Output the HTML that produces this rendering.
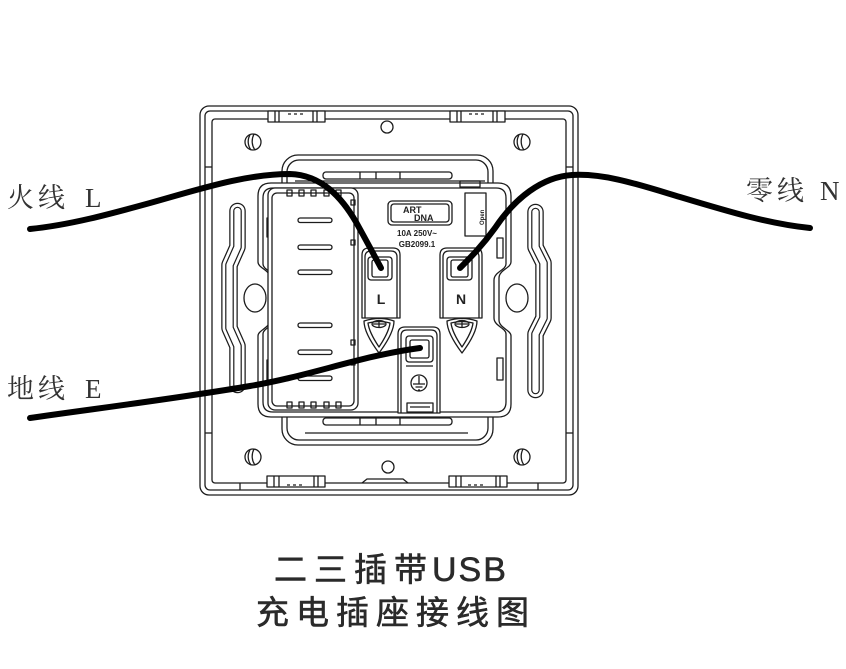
<!DOCTYPE html>
<html><head><meta charset="utf-8">
<style>
html,body{margin:0;padding:0;background:#fff;}
body{width:846px;height:669px;overflow:hidden;position:relative;}
svg{position:absolute;left:0;top:0;}
</style></head>
<body>
<svg width="846" height="669" viewBox="0 0 846 669" xmlns="http://www.w3.org/2000/svg">
<g fill="none" stroke="#1c1c1c" stroke-width="1.3" stroke-linejoin="round">
  <rect x="200" y="106" width="378" height="389" rx="9"/>
  <rect x="205" y="111" width="368" height="379" rx="5"/>
  <rect x="212" y="119" width="354" height="364" rx="3"/>
  <line x1="205" y1="167" x2="212" y2="167"/>
  <line x1="566" y1="167" x2="573" y2="167"/>
  <line x1="205" y1="433" x2="212" y2="433"/>
  <line x1="566" y1="433" x2="573" y2="433"/>
  <g fill="#fff">
    <rect x="268" y="111" width="57" height="11"/>
    <rect x="450" y="111" width="55" height="11"/>
    <rect x="267" y="476" width="58" height="11"/>
    <rect x="449" y="476" width="58" height="11"/>
  </g>
  <path d="M275,111V122M279,111V122M313,111V122M317,111V122M457,111V122M461,111V122M493,111V122M497,111V122"/>
  <path d="M274,476V487M279,476V487M314,476V487M318,476V487M456,476V487M461,476V487M496,476V487M500,476V487"/>
  <path d="M288,114h3M294,114h3M300,114h3M469,114h3M475,114h3M481,114h3M287,485h3M293,485h3M299,485h3M468,485h3M474,485h3M480,485h3"/>
  <path d="M362,483 L367,479 H403 L408,483"/>
  <line x1="240" y1="483" x2="240" y2="490"/>
  <line x1="538" y1="483" x2="538" y2="490"/>
  <g>
    <circle cx="253" cy="142" r="8"/><path d="M250,135 C247,140 248,146 251,150 M254,134 C251,140 252,146 255,150"/>
    <circle cx="522" cy="142" r="8"/><path d="M519,135 C516,140 517,146 520,150 M523,134 C520,140 521,146 524,150"/>
    <circle cx="253" cy="457" r="8"/><path d="M250,450 C247,455 248,461 251,465 M254,449 C251,455 252,461 255,465"/>
    <circle cx="522" cy="457" r="8"/><path d="M519,450 C516,455 517,461 520,465 M523,449 C520,455 521,461 524,465"/>
    <circle cx="387" cy="127" r="6"/>
    <circle cx="388" cy="467" r="6"/>
  </g>
</g>
<g fill="none" stroke-linecap="round" stroke-linejoin="round">
  <path d="M237.5,211 L237.5,247 L229.5,265 L229.5,328 L237.5,346 L237.5,385" stroke="#1c1c1c" stroke-width="16.5"/>
  <path d="M237.5,211 L237.5,247 L229.5,265 L229.5,328 L237.5,346 L237.5,385" stroke="#fff" stroke-width="14"/>
  <path d="M237.5,211 L237.5,247 L229.5,265 L229.5,328 L237.5,346 L237.5,385" stroke="#1c1c1c" stroke-width="8.6"/>
  <path d="M237.5,211 L237.5,247 L229.5,265 L229.5,328 L237.5,346 L237.5,385" stroke="#fff" stroke-width="6.2"/>
  <path d="M535.5,212 L535.5,247 L543.5,263 L543.5,318 L535.5,334 L535.5,390" stroke="#1c1c1c" stroke-width="16.5"/>
  <path d="M535.5,212 L535.5,247 L543.5,263 L543.5,318 L535.5,334 L535.5,390" stroke="#fff" stroke-width="14"/>
  <path d="M535.5,212 L535.5,247 L543.5,263 L543.5,318 L535.5,334 L535.5,390" stroke="#1c1c1c" stroke-width="8.6"/>
  <path d="M535.5,212 L535.5,247 L543.5,263 L543.5,318 L535.5,334 L535.5,390" stroke="#fff" stroke-width="6.2"/>
</g>
<g fill="none" stroke="#1c1c1c" stroke-width="1.3" stroke-linejoin="round">
  <ellipse cx="255" cy="298" rx="11" ry="14"/>
  <ellipse cx="517" cy="298" rx="11" ry="14"/>
  <rect x="282" y="155" width="211" height="290" rx="16" fill="#fff"/>
  <rect x="287" y="160" width="201" height="280" rx="12"/>
  <rect x="323" y="172" width="129" height="7" rx="3"/>
  <path d="M360,172V179M376,172V179M400,172V179"/>
  <line x1="295" y1="181" x2="485" y2="181"/>
  <line x1="305" y1="433" x2="468" y2="433"/>
  <rect x="323" y="418" width="129" height="7" rx="3"/>
  <path d="M360,418V425M376,418V425M400,418V425"/>
  <path fill="#fff" d="M271,183 L498,183 Q511,183 511,196 L511,262 C511,268 499,270 499,278 L499,320 C499,328 511,330 511,336 L511,404 Q511,417 498,417 L271,417 Q258,417 258,404 L258,336 C258,330 270,328 270,320 L270,278 C270,270 258,268 258,262 L258,196 Q258,183 271,183 Z"/>
  <path d="M273,188 L496,188 Q506,188 506,198 L506,264 C506,270 494,272 494,280 L494,318 C494,326 506,328 506,334 L506,402 Q506,412 496,412 L273,412 Q263,412 263,402 L263,334 C263,328 275,326 275,318 L275,280 C275,272 263,270 263,264 L263,198 Q263,188 273,188 Z"/>
  <rect x="267" y="218" width="6" height="19"/>
  <rect x="267" y="360" width="6" height="20"/>
  <rect x="497" y="238" width="6" height="20"/>
  <rect x="497" y="358" width="6" height="22"/>
  <path d="M460,181h20v6h-20z"/>
  <rect x="268" y="188" width="90" height="222" rx="7" fill="#fff"/>
  <rect x="272" y="193" width="82" height="213" rx="5"/>
  <g>
    <rect x="287" y="190" width="5" height="6"/><rect x="299" y="190" width="5" height="6"/><rect x="311" y="190" width="5" height="6"/><rect x="324" y="190" width="5" height="6"/><rect x="336" y="190" width="5" height="6"/>
    <rect x="287" y="402" width="5" height="6"/><rect x="299" y="402" width="5" height="6"/><rect x="311" y="402" width="5" height="6"/><rect x="324" y="402" width="5" height="6"/><rect x="336" y="402" width="5" height="6"/>
    <rect x="351" y="200" width="4" height="5"/><rect x="351" y="240" width="4" height="5"/><rect x="351" y="340" width="4" height="5"/><rect x="351" y="360" width="4" height="5"/>
  </g>
  <g>
    <rect x="298" y="218" width="34" height="4.5" rx="2.2"/>
    <rect x="298" y="245" width="34" height="4.5" rx="2.2"/>
    <rect x="298" y="270" width="34" height="4.5" rx="2.2"/>
    <rect x="298" y="323" width="34" height="4.5" rx="2.2"/>
    <rect x="298" y="350" width="34" height="4.5" rx="2.2"/>
    <rect x="298" y="376" width="34" height="4.5" rx="2.2"/>
  </g>
  <rect x="388" y="201" width="64" height="24" rx="4"/>
  <rect x="391" y="204" width="58" height="18" rx="3"/>
  <rect x="465" y="193" width="21" height="43"/>
  <path d="M362,318 L362,255 Q362,248 369,248 L393,248 Q400,248 400,255 L400,318 Z"/>
  <path d="M365,318 L365,257 Q365,251 371,251 L391,251 Q397,251 397,257 L397,318"/>
  <rect x="368" y="257" width="24" height="23" rx="3"/>
  <rect x="372" y="260" width="16" height="17" rx="2"/>
  <path d="M364,321 Q380,316 394,321 Q394,333 379,353 Q364,333 364,321 Z"/>
  <path d="M368,323 Q380,320 390,323 Q389,332 379,347 Q369,332 368,323 Z"/>
  <ellipse cx="379" cy="324" rx="7" ry="3.5"/>
  <path d="M379,320V328M373,324h12"/>
  <path d="M440,318 L440,255 Q440,248 447,248 L475,248 Q482,248 482,255 L482,318 Z"/>
  <path d="M443,318 L443,257 Q443,251 449,251 L473,251 Q479,251 479,257 L479,318"/>
  <rect x="447" y="257" width="25" height="23" rx="3"/>
  <rect x="451" y="260" width="17" height="17" rx="2"/>
  <path d="M447,321 Q462,316 477,321 Q477,333 462,353 Q447,333 447,321 Z"/>
  <path d="M451,323 Q462,320 473,323 Q472,332 462,347 Q452,332 451,323 Z"/>
  <ellipse cx="462" cy="324" rx="7" ry="3.5"/>
  <path d="M462,320V328M456,324h12"/>
  <path d="M398,413 L398,334 Q398,327 405,327 L433,327 Q440,327 440,334 L440,413 Z" fill="#fff"/>
  <path d="M401,413 L401,336 Q401,330 407,330 L431,330 Q437,330 437,336 L437,413"/>
  <rect x="406" y="336" width="27" height="26" rx="3"/>
  <rect x="410" y="340" width="19" height="18" rx="2"/>
  <line x1="406" y1="366" x2="433" y2="366"/>
  <circle cx="419" cy="383" r="8"/>
  <path d="M419,376V384M413,384h12M415.5,387h7M418,390h2"/>
  <rect x="407" y="403" width="26" height="9"/>
  <line x1="410" y1="407" x2="430" y2="407"/>
</g>
<g font-family="Liberation Sans, sans-serif" font-weight="bold" fill="#222">
  <text x="403" y="213" font-size="9">ART</text>
  <text x="414" y="221" font-size="9">DNA</text>
  <text x="417" y="236" font-size="8" text-anchor="middle">10A 250V~</text>
  <text x="417" y="247" font-size="8" text-anchor="middle">GB2099.1</text>
  <text x="381" y="304" font-size="14" text-anchor="middle">L</text>
  <text x="461" y="304" font-size="14" text-anchor="middle">N</text>
  <text x="0" y="0" font-size="6" transform="translate(484,225) rotate(-90)">Open</text>
</g>
<g fill="none" stroke="#000" stroke-width="6" stroke-linecap="round">
  <path d="M30,229 C70,225 110,214 150,203 C200,189 245,174 290,174 C322,175 342,198 356,222 C366,240 374,255 381,268"/>
  <path d="M810,228 C770,224 730,212 680,197 C640,185 605,173 572,175 C542,177 515,198 495,228 C482,246 470,258 460,268"/>
  <path d="M30,418 C100,408 180,398 250,386 C310,376 360,356 420,348"/>
</g>
<g font-family="Liberation Serif, 'Noto Serif CJK SC', serif" fill="#333" font-size="27">
  <text x="7" y="207" letter-spacing="4">火线</text>
  <text x="85" y="207">L</text>
  <text x="7" y="398" letter-spacing="4">地线</text>
  <text x="85" y="398">E</text>
  <text x="746" y="200" letter-spacing="4">零线</text>
  <text x="820" y="200">N</text>
</g>
<g font-family="Liberation Sans, 'Noto Sans CJK SC', sans-serif" fill="#2a2a2a" font-size="33" stroke="#2a2a2a" stroke-width="0.6">
  <text x="274" y="581" letter-spacing="7">二三插带</text>
  <text x="432" y="581" letter-spacing="2" font-size="34">USB</text>
  <text x="256" y="624" letter-spacing="7">充电插座接线图</text>
</g>
</svg>
</body></html>
